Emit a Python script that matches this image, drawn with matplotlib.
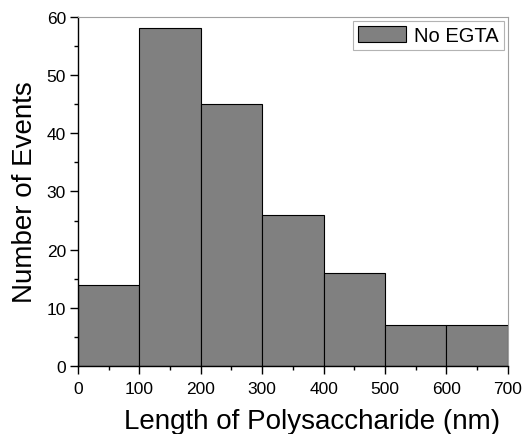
import numpy as np
import matplotlib
matplotlib.use("Agg")
import matplotlib.pyplot as plt
from matplotlib.ticker import MultipleLocator

plt.rcParams["font.family"] = ["Liberation Sans", "DejaVu Sans"]

# ── Data ──────────────────────────────────────────────────────────────────────
bin_edges = [0, 100, 200, 300, 400, 500, 600, 700]
counts    = [14, 58, 45, 26, 16, 7, 7]
label     = "No EGTA"

fig = plt.figure(figsize=(5.22, 4.35), dpi=100)
ax = fig.add_axes([0.149, 0.156, 0.824, 0.803])

ax.hist(bin_edges[:-1], bins=bin_edges, weights=counts,
        color="#808080", edgecolor="black", linewidth=0.8, label=label)

ax.set_xlim(0, 700)
ax.set_ylim(0, 60)
ax.xaxis.set_major_locator(MultipleLocator(100))
ax.xaxis.set_minor_locator(MultipleLocator(50))
ax.yaxis.set_major_locator(MultipleLocator(10))
ax.yaxis.set_minor_locator(MultipleLocator(5))
ax.tick_params(which="both", direction="out", labelsize=12.5, width=1)
ax.tick_params(which="major", length=5.5)
ax.tick_params(which="minor", length=3)
ax.tick_params(axis="x", pad=5)
ax.tick_params(axis="y", pad=3)

for side in ("top", "right"):
    ax.spines[side].set_color("#a0a0a0")
for side in ("left", "bottom"):
    ax.spines[side].set_linewidth(1)

ax.set_xlabel("Length of Polysaccharide (nm)", fontsize=20, labelpad=9, x=0.544)
ax.set_ylabel("Number of Events", fontsize=20, labelpad=6)

leg = ax.legend(loc="upper right", fontsize=14.5, fancybox=False,
                borderaxespad=0.2, handlelength=2.4, handleheight=0.85,
                handletextpad=0.4, borderpad=0.25)
leg.get_frame().set_edgecolor("#a0a0a0")
leg.get_frame().set_linewidth(0.8)

fig.savefig("out.png", dpi=100)
